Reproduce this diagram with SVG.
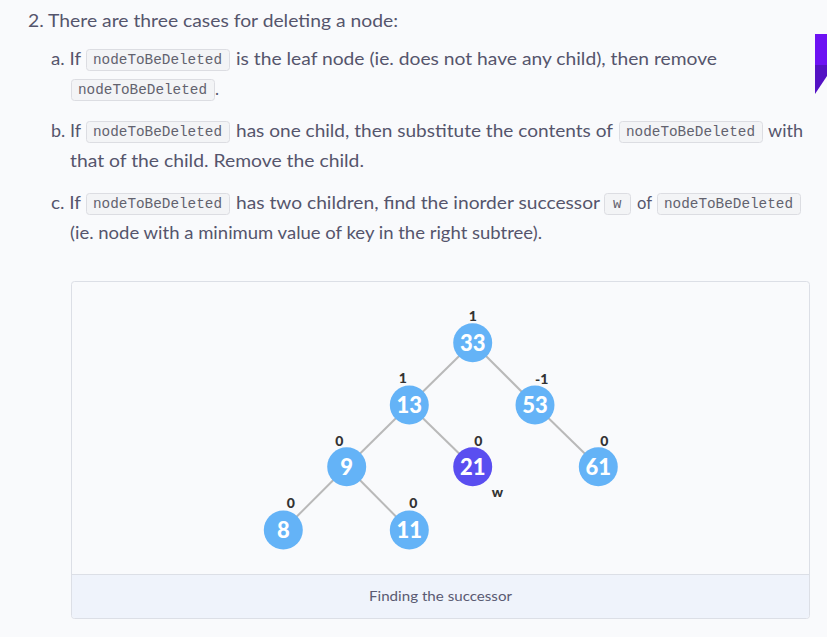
<svg xmlns="http://www.w3.org/2000/svg" width="827" height="637" viewBox="0 0 827 637">
<style>
.t{font-family:Lato,"Open Sans","Liberation Sans",sans-serif;font-size:17px;fill:#55556c}
.cb{fill:#f3f4f6;stroke:#dcdde2;stroke-width:1}
.ct{font-family:"Liberation Mono","DejaVu Sans Mono",monospace;font-size:14px;fill:#62626e}
.n{fill:#64b3f7}
.nt{font-family:Lato,"Liberation Sans",sans-serif;font-weight:900;font-size:22px;fill:#fff;text-anchor:middle}
.bl{font-family:Lato,"Liberation Sans",sans-serif;font-weight:900;font-size:14px;fill:#333;text-anchor:middle}
.e{stroke:#b9b9b9;stroke-width:2;fill:none}
</style>
<rect x="0" y="0" width="827" height="637" fill="#f9fafc"/>
<!-- corner badge -->
<rect x="815" y="34" width="12" height="31" fill="#6d12f3"/>
<polygon points="815,65 827,65 827,76 815,94" fill="#5412c4"/>

<text class="t" x="28" y="27" textLength="370" lengthAdjust="spacingAndGlyphs">2. There are three cases for deleting a node:</text>

<!-- line a -->
<text class="t" x="51" y="65" textLength="30" lengthAdjust="spacingAndGlyphs">a. If</text>
<rect class="cb" x="86.5" y="49.5" width="143" height="21" rx="3"/>
<text class="ct" x="93" y="64" textLength="129" lengthAdjust="spacingAndGlyphs">nodeToBeDeleted</text>
<text class="t" x="236" y="65" textLength="481" lengthAdjust="spacingAndGlyphs">is the leaf node (ie. does not have any child), then remove</text>
<rect class="cb" x="71.5" y="79.5" width="143" height="21" rx="3"/>
<text class="ct" x="78" y="94" textLength="129" lengthAdjust="spacingAndGlyphs">nodeToBeDeleted</text>
<text class="t" x="215" y="95">.</text>

<!-- line b -->
<text class="t" x="51" y="137" textLength="30" lengthAdjust="spacingAndGlyphs">b. If</text>
<rect class="cb" x="86.5" y="121.5" width="143" height="21" rx="3"/>
<text class="ct" x="93" y="136" textLength="129" lengthAdjust="spacingAndGlyphs">nodeToBeDeleted</text>
<text class="t" x="236" y="137" textLength="377" lengthAdjust="spacingAndGlyphs">has one child, then substitute the contents of</text>
<rect class="cb" x="619.5" y="121.5" width="143" height="21" rx="3"/>
<text class="ct" x="626" y="136" textLength="129" lengthAdjust="spacingAndGlyphs">nodeToBeDeleted</text>
<text class="t" x="768" y="137" textLength="35" lengthAdjust="spacingAndGlyphs">with</text>
<text class="t" x="70" y="167" textLength="294" lengthAdjust="spacingAndGlyphs">that of the child. Remove the child.</text>

<!-- line c -->
<text class="t" x="51" y="209" textLength="30" lengthAdjust="spacingAndGlyphs">c. If</text>
<rect class="cb" x="86.5" y="193.5" width="143" height="21" rx="3"/>
<text class="ct" x="93" y="208" textLength="129" lengthAdjust="spacingAndGlyphs">nodeToBeDeleted</text>
<text class="t" x="236" y="209" textLength="364" lengthAdjust="spacingAndGlyphs">has two children, find the inorder successor</text>
<rect class="cb" x="604.5" y="193.5" width="26" height="21" rx="3"/>
<text class="ct" x="613" y="208">w</text>
<text class="t" x="637" y="209" textLength="15" lengthAdjust="spacingAndGlyphs">of</text>
<rect class="cb" x="657.5" y="193.5" width="143" height="21" rx="3"/>
<text class="ct" x="664" y="208" textLength="129" lengthAdjust="spacingAndGlyphs">nodeToBeDeleted</text>
<text class="t" x="70" y="239" textLength="472" lengthAdjust="spacingAndGlyphs">(ie. node with a minimum value of key in the right subtree).</text>

<!-- figure -->
<rect x="71.5" y="281.5" width="738" height="337" rx="3" fill="#f9fafc" stroke="#dcdfe6"/>
<path d="M72,574.5 H809 V615 a3,3 0 0 1 -3,3 H75 a3,3 0 0 1 -3,-3 Z" fill="#eff3fb"/>
<line x1="72" y1="574.5" x2="809" y2="574.5" stroke="#dcdfe6"/>
<text x="440.5" y="601" text-anchor="middle" font-family="Lato,'Open Sans','Liberation Sans',sans-serif" font-size="14" fill="#5a5a72" textLength="143" lengthAdjust="spacingAndGlyphs">Finding the successor</text>

<g id="connectors">
<line class="e" x1="472.7" y1="342.7" x2="409.3" y2="405"/>
<line class="e" x1="472.7" y1="342.7" x2="535" y2="405"/>
<line class="e" x1="409.3" y1="405" x2="346.7" y2="466.7"/>
<line class="e" x1="409.3" y1="405" x2="472.7" y2="466.7"/>
<line class="e" x1="535" y1="405" x2="598.3" y2="466.7"/>
<line class="e" x1="346.7" y1="466.7" x2="283.3" y2="530"/>
<line class="e" x1="346.7" y1="466.7" x2="409.3" y2="530"/>
</g>

<g id="n33"><circle class="n" cx="472.7" cy="342.7" r="19.5"/><text class="nt" x="472.7" y="350.5">33</text><text class="bl" x="472.7" y="321">1</text></g>
<g id="n13"><circle class="n" cx="409.3" cy="405" r="19.5"/><text class="nt" x="409.3" y="412.8">13</text><text class="bl" x="402.7" y="383">1</text></g>
<g id="n53"><circle class="n" cx="535" cy="405" r="19.5"/><text class="nt" x="535" y="412.8">53</text><text class="bl" x="541.7" y="384">-1</text></g>
<g id="n9"><circle class="n" cx="346.7" cy="466.7" r="19.5"/><text class="nt" x="346.7" y="474.5">9</text><text class="bl" x="339.3" y="445.7">0</text></g>
<g id="n21"><circle cx="472.7" cy="466.7" r="19.5" fill="#5a4ef0"/><text class="nt" x="472.7" y="474.5">21</text><text class="bl" x="478.3" y="445.7">0</text><text class="bl" x="497.3" y="496.5">w</text></g>
<g id="n61"><circle class="n" cx="598.3" cy="466.7" r="19.5"/><text class="nt" x="598.3" y="474.5">61</text><text class="bl" x="604.3" y="445.7">0</text></g>
<g id="n8"><circle class="n" cx="283.3" cy="530" r="19.5"/><text class="nt" x="283.3" y="537.8">8</text><text class="bl" x="290.7" y="507.7">0</text></g>
<g id="n11"><circle class="n" cx="409.3" cy="530" r="19.5"/><text class="nt" x="409.3" y="537.8">11</text><text class="bl" x="413.3" y="507.7">0</text></g>
</svg>
